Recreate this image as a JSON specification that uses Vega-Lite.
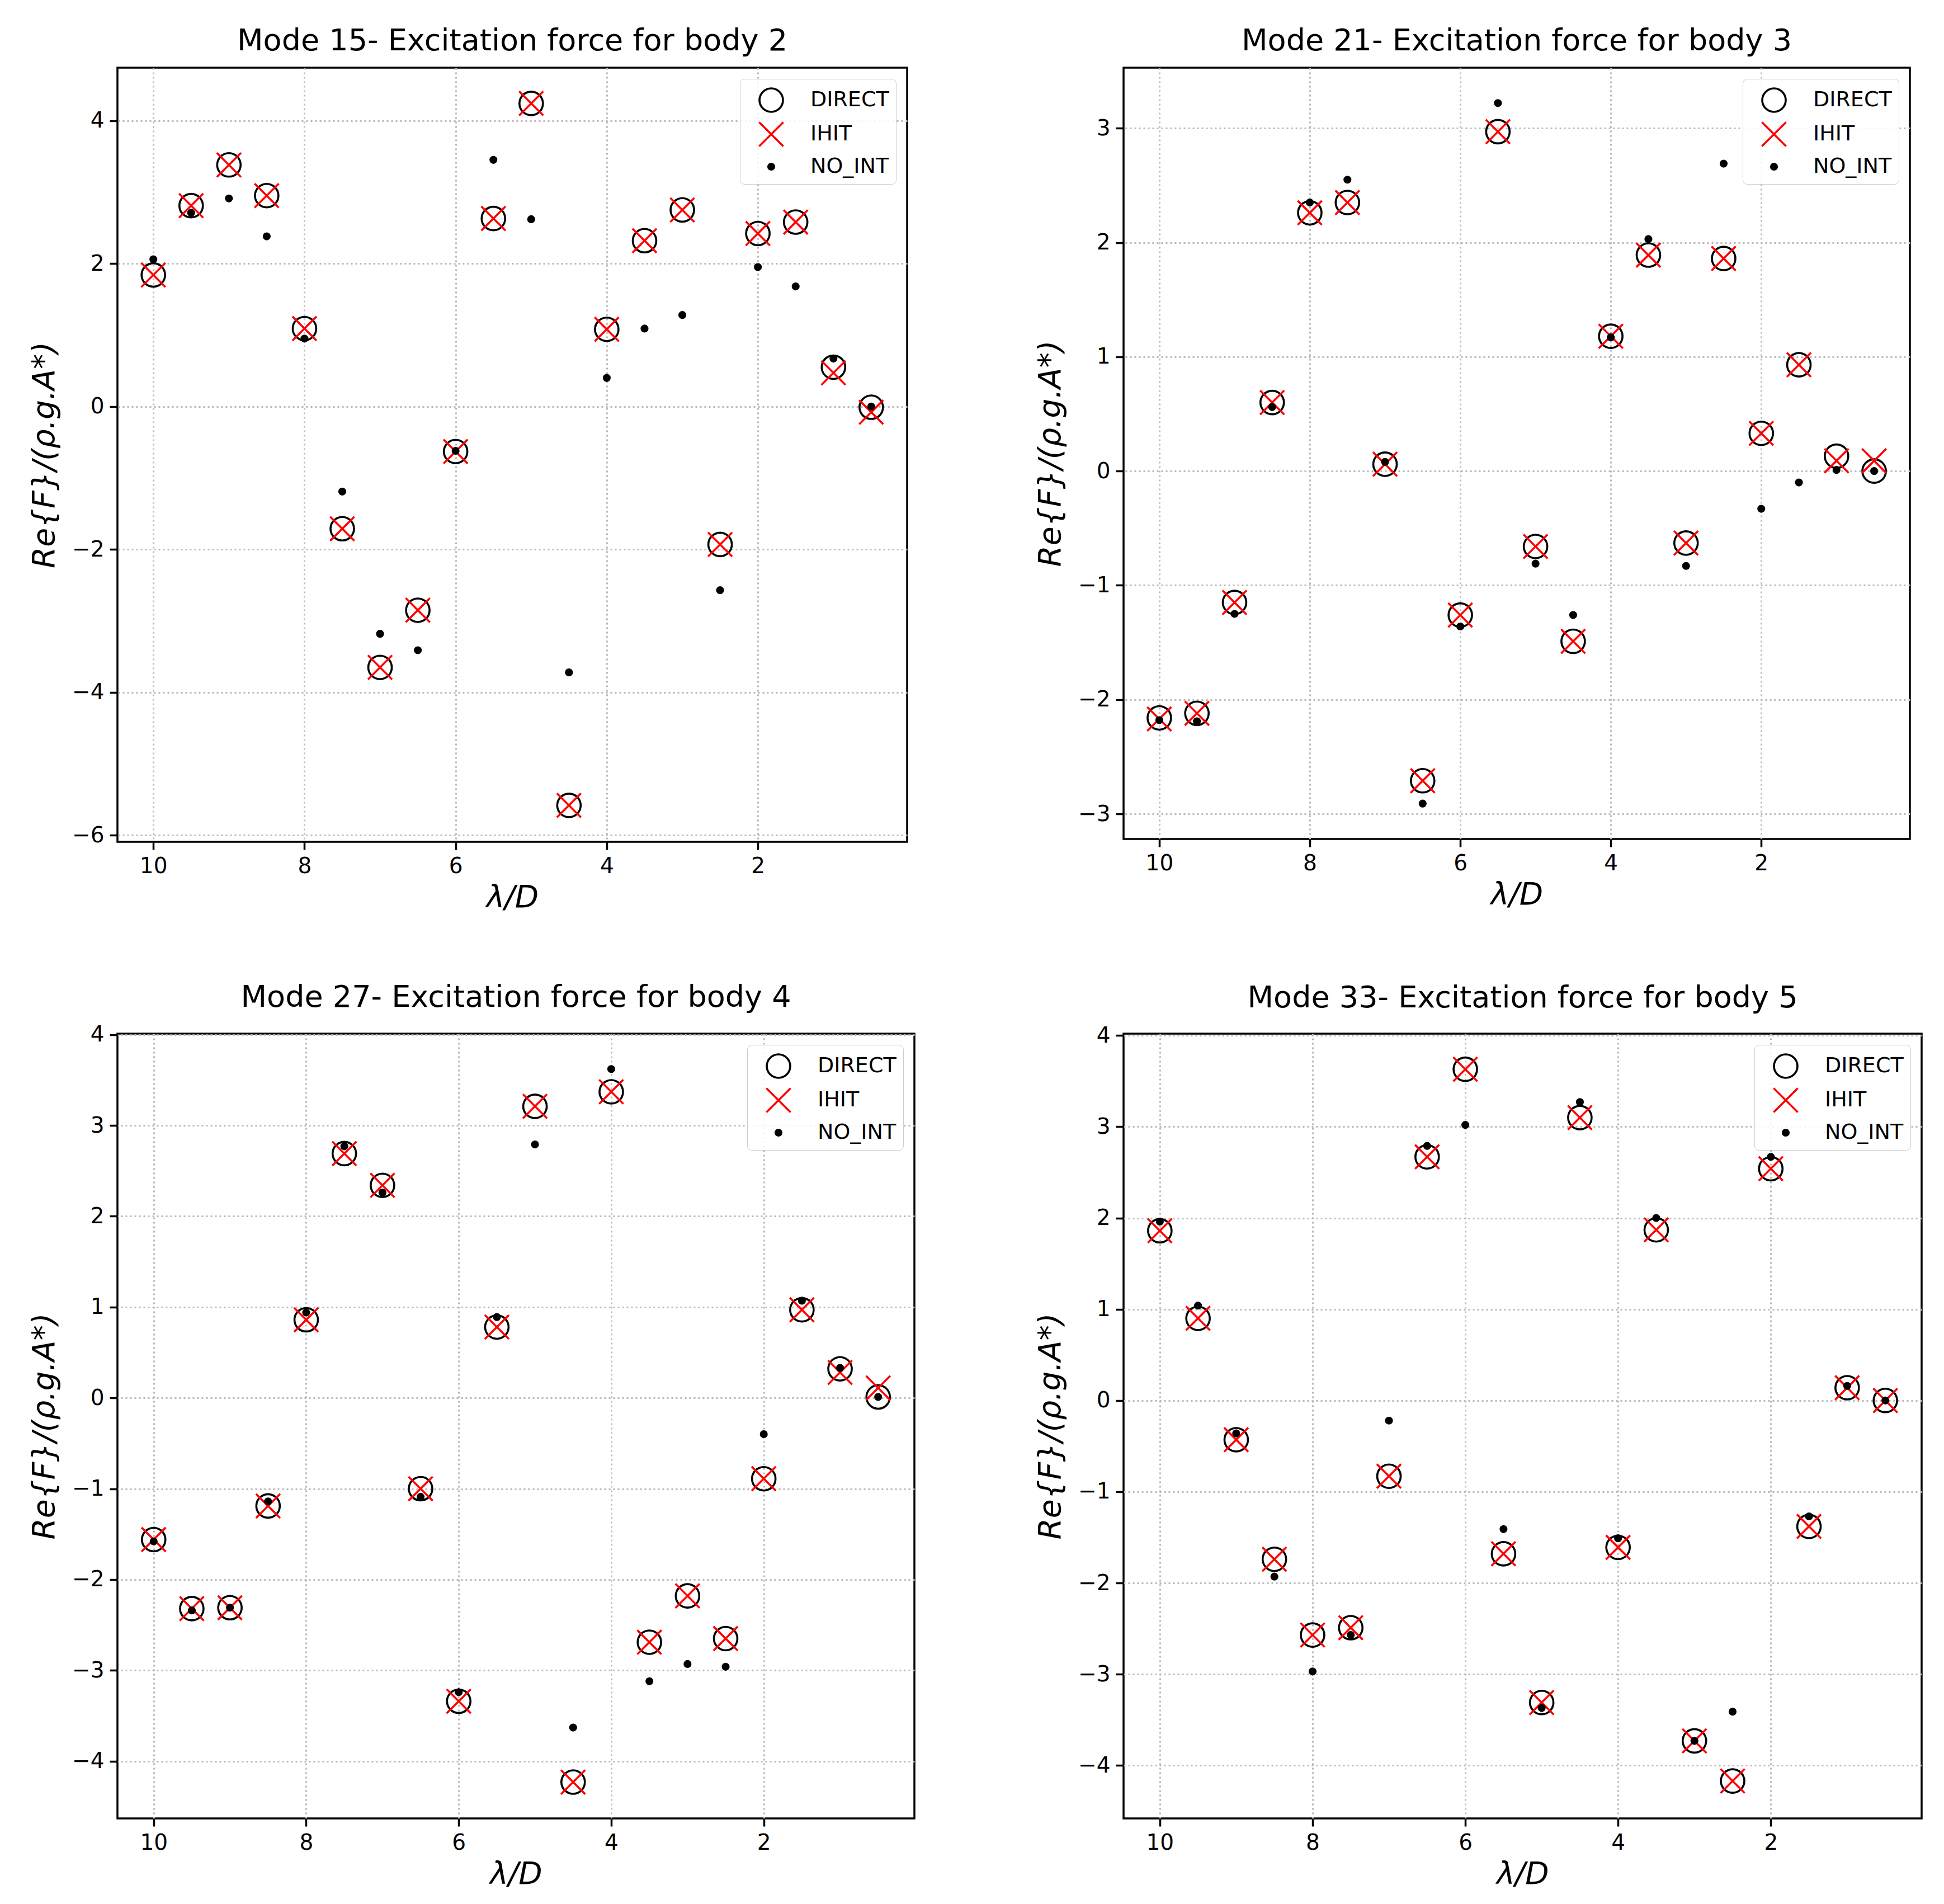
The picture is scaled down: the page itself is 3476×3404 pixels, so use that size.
{
  "$schema": "https://vega.github.io/schema/vega-lite/v6.json",
  "background": "white",
  "padding": {"left": 50, "top": 45, "right": 0, "bottom": 0},
  "config": {
    "font": "DejaVu Sans",
    "view": {"stroke": "black", "strokeWidth": 3.5},
    "title": {"font": "DejaVu Sans", "fontSize": 54, "fontWeight": "normal", "color": "black", "offset": 20, "anchor": "middle"},
    "axis": {
      "domain": false,
      "grid": true, "gridColor": "#b8b8b8", "gridDash": [3, 5], "gridWidth": 3,
      "ticks": true, "tickColor": "black", "tickSize": 14, "tickWidth": 3.5,
      "labelFont": "DejaVu Sans", "labelFontSize": 39, "labelColor": "black", "labelPadding": 10,
      "titleFont": "DejaVu Sans", "titleFontSize": 55, "titleFontStyle": "italic", "titleFontWeight": "normal", "titleColor": "black"
    },
    "axisX": {"titlePadding": 10},
    "axisY": {"titlePadding": 20},
    "legend": {
      "labelFont": "DejaVu Sans", "labelFontSize": 38, "labelColor": "black",
      "padding": 12, "strokeColor": "#cccccc", "fillColor": "rgba(255,255,255,0.85)", "cornerRadius": 8,
      "rowPadding": 3, "labelOffset": 44, "symbolOffset": 18, "symbolSize": 2304, "symbolStrokeWidth": 3.6, "symbolOpacity": 1
    }
  },
  "datasets": {
    "m15": [
      {"lambda":10,"series":"DIRECT","value":1.84},{"lambda":9.5,"series":"DIRECT","value":2.81},{"lambda":9,"series":"DIRECT","value":3.38},{"lambda":8.5,"series":"DIRECT","value":2.95},{"lambda":8,"series":"DIRECT","value":1.09},{"lambda":7.5,"series":"DIRECT","value":-1.71},{"lambda":7,"series":"DIRECT","value":-3.65},{"lambda":6.5,"series":"DIRECT","value":-2.85},{"lambda":6,"series":"DIRECT","value":-0.63},{"lambda":5.5,"series":"DIRECT","value":2.63},{"lambda":5,"series":"DIRECT","value":4.24},{"lambda":4.5,"series":"DIRECT","value":-5.58},{"lambda":4,"series":"DIRECT","value":1.08},{"lambda":3.5,"series":"DIRECT","value":2.32},{"lambda":3,"series":"DIRECT","value":2.75},{"lambda":2.5,"series":"DIRECT","value":-1.93},{"lambda":2,"series":"DIRECT","value":2.42},{"lambda":1.5,"series":"DIRECT","value":2.58},{"lambda":1,"series":"DIRECT","value":0.55},{"lambda":0.5,"series":"DIRECT","value":-0.01},
      {"lambda":10,"series":"IHIT","value":1.84},{"lambda":9.5,"series":"IHIT","value":2.81},{"lambda":9,"series":"IHIT","value":3.38},{"lambda":8.5,"series":"IHIT","value":2.95},{"lambda":8,"series":"IHIT","value":1.09},{"lambda":7.5,"series":"IHIT","value":-1.71},{"lambda":7,"series":"IHIT","value":-3.65},{"lambda":6.5,"series":"IHIT","value":-2.85},{"lambda":6,"series":"IHIT","value":-0.63},{"lambda":5.5,"series":"IHIT","value":2.63},{"lambda":5,"series":"IHIT","value":4.24},{"lambda":4.5,"series":"IHIT","value":-5.58},{"lambda":4,"series":"IHIT","value":1.08},{"lambda":3.5,"series":"IHIT","value":2.32},{"lambda":3,"series":"IHIT","value":2.75},{"lambda":2.5,"series":"IHIT","value":-1.93},{"lambda":2,"series":"IHIT","value":2.42},{"lambda":1.5,"series":"IHIT","value":2.58},{"lambda":1,"series":"IHIT","value":0.47},{"lambda":0.5,"series":"IHIT","value":-0.08},
      {"lambda":10,"series":"NO_INT","value":2.06},{"lambda":9.5,"series":"NO_INT","value":2.71},{"lambda":9,"series":"NO_INT","value":2.91},{"lambda":8.5,"series":"NO_INT","value":2.38},{"lambda":8,"series":"NO_INT","value":0.95},{"lambda":7.5,"series":"NO_INT","value":-1.19},{"lambda":7,"series":"NO_INT","value":-3.18},{"lambda":6.5,"series":"NO_INT","value":-3.41},{"lambda":6,"series":"NO_INT","value":-0.62},{"lambda":5.5,"series":"NO_INT","value":3.45},{"lambda":5,"series":"NO_INT","value":2.62},{"lambda":4.5,"series":"NO_INT","value":-3.72},{"lambda":4,"series":"NO_INT","value":0.40},{"lambda":3.5,"series":"NO_INT","value":1.09},{"lambda":3,"series":"NO_INT","value":1.28},{"lambda":2.5,"series":"NO_INT","value":-2.57},{"lambda":2,"series":"NO_INT","value":1.95},{"lambda":1.5,"series":"NO_INT","value":1.68},{"lambda":1,"series":"NO_INT","value":0.67},{"lambda":0.5,"series":"NO_INT","value":0.0}
    ],
    "m21": [
      {"lambda":10,"series":"DIRECT","value":-2.16},{"lambda":9.5,"series":"DIRECT","value":-2.12},{"lambda":9,"series":"DIRECT","value":-1.15},{"lambda":8.5,"series":"DIRECT","value":0.60},{"lambda":8,"series":"DIRECT","value":2.26},{"lambda":7.5,"series":"DIRECT","value":2.35},{"lambda":7,"series":"DIRECT","value":0.06},{"lambda":6.5,"series":"DIRECT","value":-2.71},{"lambda":6,"series":"DIRECT","value":-1.26},{"lambda":5.5,"series":"DIRECT","value":2.97},{"lambda":5,"series":"DIRECT","value":-0.66},{"lambda":4.5,"series":"DIRECT","value":-1.49},{"lambda":4,"series":"DIRECT","value":1.18},{"lambda":3.5,"series":"DIRECT","value":1.89},{"lambda":3,"series":"DIRECT","value":-0.63},{"lambda":2.5,"series":"DIRECT","value":1.86},{"lambda":2,"series":"DIRECT","value":0.33},{"lambda":1.5,"series":"DIRECT","value":0.93},{"lambda":1,"series":"DIRECT","value":0.13},{"lambda":0.5,"series":"DIRECT","value":0.0},
      {"lambda":10,"series":"IHIT","value":-2.17},{"lambda":9.5,"series":"IHIT","value":-2.12},{"lambda":9,"series":"IHIT","value":-1.15},{"lambda":8.5,"series":"IHIT","value":0.60},{"lambda":8,"series":"IHIT","value":2.26},{"lambda":7.5,"series":"IHIT","value":2.35},{"lambda":7,"series":"IHIT","value":0.06},{"lambda":6.5,"series":"IHIT","value":-2.71},{"lambda":6,"series":"IHIT","value":-1.26},{"lambda":5.5,"series":"IHIT","value":2.97},{"lambda":5,"series":"IHIT","value":-0.66},{"lambda":4.5,"series":"IHIT","value":-1.49},{"lambda":4,"series":"IHIT","value":1.18},{"lambda":3.5,"series":"IHIT","value":1.89},{"lambda":3,"series":"IHIT","value":-0.63},{"lambda":2.5,"series":"IHIT","value":1.86},{"lambda":2,"series":"IHIT","value":0.33},{"lambda":1.5,"series":"IHIT","value":0.93},{"lambda":1,"series":"IHIT","value":0.09},{"lambda":0.5,"series":"IHIT","value":0.09},
      {"lambda":10,"series":"NO_INT","value":-2.18},{"lambda":9.5,"series":"NO_INT","value":-2.19},{"lambda":9,"series":"NO_INT","value":-1.25},{"lambda":8.5,"series":"NO_INT","value":0.56},{"lambda":8,"series":"NO_INT","value":2.35},{"lambda":7.5,"series":"NO_INT","value":2.55},{"lambda":7,"series":"NO_INT","value":0.08},{"lambda":6.5,"series":"NO_INT","value":-2.91},{"lambda":6,"series":"NO_INT","value":-1.36},{"lambda":5.5,"series":"NO_INT","value":3.22},{"lambda":5,"series":"NO_INT","value":-0.81},{"lambda":4.5,"series":"NO_INT","value":-1.26},{"lambda":4,"series":"NO_INT","value":1.17},{"lambda":3.5,"series":"NO_INT","value":2.03},{"lambda":3,"series":"NO_INT","value":-0.83},{"lambda":2.5,"series":"NO_INT","value":2.69},{"lambda":2,"series":"NO_INT","value":-0.33},{"lambda":1.5,"series":"NO_INT","value":-0.10},{"lambda":1,"series":"NO_INT","value":0.01},{"lambda":0.5,"series":"NO_INT","value":0.0}
    ],
    "m27": [
      {"lambda":10,"series":"DIRECT","value":-1.56},{"lambda":9.5,"series":"DIRECT","value":-2.32},{"lambda":9,"series":"DIRECT","value":-2.31},{"lambda":8.5,"series":"DIRECT","value":-1.19},{"lambda":8,"series":"DIRECT","value":0.86},{"lambda":7.5,"series":"DIRECT","value":2.69},{"lambda":7,"series":"DIRECT","value":2.34},{"lambda":6.5,"series":"DIRECT","value":-1.00},{"lambda":6,"series":"DIRECT","value":-3.34},{"lambda":5.5,"series":"DIRECT","value":0.78},{"lambda":5,"series":"DIRECT","value":3.21},{"lambda":4.5,"series":"DIRECT","value":-4.23},{"lambda":4,"series":"DIRECT","value":3.37},{"lambda":3.5,"series":"DIRECT","value":-2.69},{"lambda":3,"series":"DIRECT","value":-2.18},{"lambda":2.5,"series":"DIRECT","value":-2.65},{"lambda":2,"series":"DIRECT","value":-0.89},{"lambda":1.5,"series":"DIRECT","value":0.97},{"lambda":1,"series":"DIRECT","value":0.32},{"lambda":0.5,"series":"DIRECT","value":0.01},
      {"lambda":10,"series":"IHIT","value":-1.56},{"lambda":9.5,"series":"IHIT","value":-2.32},{"lambda":9,"series":"IHIT","value":-2.31},{"lambda":8.5,"series":"IHIT","value":-1.19},{"lambda":8,"series":"IHIT","value":0.86},{"lambda":7.5,"series":"IHIT","value":2.69},{"lambda":7,"series":"IHIT","value":2.34},{"lambda":6.5,"series":"IHIT","value":-1.00},{"lambda":6,"series":"IHIT","value":-3.34},{"lambda":5.5,"series":"IHIT","value":0.78},{"lambda":5,"series":"IHIT","value":3.21},{"lambda":4.5,"series":"IHIT","value":-4.23},{"lambda":4,"series":"IHIT","value":3.37},{"lambda":3.5,"series":"IHIT","value":-2.69},{"lambda":3,"series":"IHIT","value":-2.18},{"lambda":2.5,"series":"IHIT","value":-2.65},{"lambda":2,"series":"IHIT","value":-0.89},{"lambda":1.5,"series":"IHIT","value":0.97},{"lambda":1,"series":"IHIT","value":0.28},{"lambda":0.5,"series":"IHIT","value":0.11},
      {"lambda":10,"series":"NO_INT","value":-1.58},{"lambda":9.5,"series":"NO_INT","value":-2.34},{"lambda":9,"series":"NO_INT","value":-2.31},{"lambda":8.5,"series":"NO_INT","value":-1.14},{"lambda":8,"series":"NO_INT","value":0.94},{"lambda":7.5,"series":"NO_INT","value":2.77},{"lambda":7,"series":"NO_INT","value":2.26},{"lambda":6.5,"series":"NO_INT","value":-1.09},{"lambda":6,"series":"NO_INT","value":-3.24},{"lambda":5.5,"series":"NO_INT","value":0.89},{"lambda":5,"series":"NO_INT","value":2.79},{"lambda":4.5,"series":"NO_INT","value":-3.63},{"lambda":4,"series":"NO_INT","value":3.62},{"lambda":3.5,"series":"NO_INT","value":-3.12},{"lambda":3,"series":"NO_INT","value":-2.93},{"lambda":2.5,"series":"NO_INT","value":-2.96},{"lambda":2,"series":"NO_INT","value":-0.40},{"lambda":1.5,"series":"NO_INT","value":1.07},{"lambda":1,"series":"NO_INT","value":0.33},{"lambda":0.5,"series":"NO_INT","value":0.01}
    ],
    "m33": [
      {"lambda":10,"series":"DIRECT","value":1.86},{"lambda":9.5,"series":"DIRECT","value":0.90},{"lambda":9,"series":"DIRECT","value":-0.43},{"lambda":8.5,"series":"DIRECT","value":-1.74},{"lambda":8,"series":"DIRECT","value":-2.57},{"lambda":7.5,"series":"DIRECT","value":-2.49},{"lambda":7,"series":"DIRECT","value":-0.83},{"lambda":6.5,"series":"DIRECT","value":2.67},{"lambda":6,"series":"DIRECT","value":3.63},{"lambda":5.5,"series":"DIRECT","value":-1.68},{"lambda":5,"series":"DIRECT","value":-3.31},{"lambda":4.5,"series":"DIRECT","value":3.10},{"lambda":4,"series":"DIRECT","value":-1.61},{"lambda":3.5,"series":"DIRECT","value":1.87},{"lambda":3,"series":"DIRECT","value":-3.73},{"lambda":2.5,"series":"DIRECT","value":-4.17},{"lambda":2,"series":"DIRECT","value":2.54},{"lambda":1.5,"series":"DIRECT","value":-1.38},{"lambda":1,"series":"DIRECT","value":0.14},{"lambda":0.5,"series":"DIRECT","value":0.0},
      {"lambda":10,"series":"IHIT","value":1.86},{"lambda":9.5,"series":"IHIT","value":0.90},{"lambda":9,"series":"IHIT","value":-0.43},{"lambda":8.5,"series":"IHIT","value":-1.74},{"lambda":8,"series":"IHIT","value":-2.57},{"lambda":7.5,"series":"IHIT","value":-2.49},{"lambda":7,"series":"IHIT","value":-0.83},{"lambda":6.5,"series":"IHIT","value":2.67},{"lambda":6,"series":"IHIT","value":3.63},{"lambda":5.5,"series":"IHIT","value":-1.68},{"lambda":5,"series":"IHIT","value":-3.31},{"lambda":4.5,"series":"IHIT","value":3.10},{"lambda":4,"series":"IHIT","value":-1.61},{"lambda":3.5,"series":"IHIT","value":1.87},{"lambda":3,"series":"IHIT","value":-3.73},{"lambda":2.5,"series":"IHIT","value":-4.17},{"lambda":2,"series":"IHIT","value":2.54},{"lambda":1.5,"series":"IHIT","value":-1.38},{"lambda":1,"series":"IHIT","value":0.14},{"lambda":0.5,"series":"IHIT","value":0.0},
      {"lambda":10,"series":"NO_INT","value":1.96},{"lambda":9.5,"series":"NO_INT","value":1.04},{"lambda":9,"series":"NO_INT","value":-0.36},{"lambda":8.5,"series":"NO_INT","value":-1.93},{"lambda":8,"series":"NO_INT","value":-2.97},{"lambda":7.5,"series":"NO_INT","value":-2.57},{"lambda":7,"series":"NO_INT","value":-0.22},{"lambda":6.5,"series":"NO_INT","value":2.79},{"lambda":6,"series":"NO_INT","value":3.02},{"lambda":5.5,"series":"NO_INT","value":-1.41},{"lambda":5,"series":"NO_INT","value":-3.37},{"lambda":4.5,"series":"NO_INT","value":3.27},{"lambda":4,"series":"NO_INT","value":-1.51},{"lambda":3.5,"series":"NO_INT","value":2.00},{"lambda":3,"series":"NO_INT","value":-3.73},{"lambda":2.5,"series":"NO_INT","value":-3.41},{"lambda":2,"series":"NO_INT","value":2.67},{"lambda":1.5,"series":"NO_INT","value":-1.27},{"lambda":1,"series":"NO_INT","value":0.16},{"lambda":0.5,"series":"NO_INT","value":0.0}
    ]
  },
  "columns": 2,
  "spacing": {"row": 120, "column": 212},
  "concat": [
    {
      "width": 1412, "height": 1384,
      "title": "Mode 15- Excitation force for body 2",
      "data": {"name": "m15"},
      "mark": {"type": "point", "size": 2304, "strokeWidth": 3.6, "opacity": 1},
      "encoding": {
        "x": {"field": "lambda", "type": "quantitative", "scale": {"domain": [0.025, 10.475], "reverse": true, "nice": false, "zero": false}, "axis": {"values": [10, 8, 6, 4, 2], "title": "λ/D"}},
        "y": {"field": "value", "type": "quantitative", "scale": {"domain": [-6.09, 4.74], "nice": false, "zero": false}, "axis": {"values": [-6, -4, -2, 0, 2, 4], "title": "Re{F}/(ρ.g.A*)"}},
        "stroke": {"field": "series", "type": "nominal", "scale": {"domain": ["DIRECT", "IHIT", "NO_INT"], "range": ["black", "red", "black"]}, "legend": {"title": null, "orient": "top-right", "offset": 20}},
        "fill": {"field": "series", "type": "nominal", "scale": {"domain": ["DIRECT", "IHIT", "NO_INT"], "range": ["transparent", "transparent", "black"]}, "legend": {"title": null, "orient": "top-right", "offset": 20}},
        "shape": {"field": "series", "type": "nominal", "scale": {"domain": ["DIRECT", "IHIT", "NO_INT"], "range": ["M0.875,0A0.875,0.875 0 1,1 -0.875,0A0.875,0.875 0 1,1 0.875,0Z", "M-0.9,-0.9L0.9,0.9M-0.9,0.9L0.9,-0.9", "M0.22,0A0.22,0.22 0 1,1 -0.22,0A0.22,0.22 0 1,1 0.22,0Z"]}, "legend": {"title": null, "orient": "top-right", "offset": 20}}
      }
    },
    {
      "width": 1406, "height": 1379,
      "title": "Mode 21- Excitation force for body 3",
      "data": {"name": "m21"},
      "mark": {"type": "point", "size": 2304, "strokeWidth": 3.6, "opacity": 1},
      "encoding": {
        "x": {"field": "lambda", "type": "quantitative", "scale": {"domain": [0.025, 10.475], "reverse": true, "nice": false, "zero": false}, "axis": {"values": [10, 8, 6, 4, 2], "title": "λ/D"}},
        "y": {"field": "value", "type": "quantitative", "scale": {"domain": [-3.22, 3.53], "nice": false, "zero": false}, "axis": {"values": [-3, -2, -1, 0, 1, 2, 3], "title": "Re{F}/(ρ.g.A*)"}},
        "stroke": {"field": "series", "type": "nominal", "scale": {"domain": ["DIRECT", "IHIT", "NO_INT"], "range": ["black", "red", "black"]}, "legend": {"title": null, "orient": "top-right", "offset": 20}},
        "fill": {"field": "series", "type": "nominal", "scale": {"domain": ["DIRECT", "IHIT", "NO_INT"], "range": ["transparent", "transparent", "black"]}, "legend": {"title": null, "orient": "top-right", "offset": 20}},
        "shape": {"field": "series", "type": "nominal", "scale": {"domain": ["DIRECT", "IHIT", "NO_INT"], "range": ["M0.875,0A0.875,0.875 0 1,1 -0.875,0A0.875,0.875 0 1,1 0.875,0Z", "M-0.9,-0.9L0.9,0.9M-0.9,0.9L0.9,-0.9", "M0.22,0A0.22,0.22 0 1,1 -0.22,0A0.22,0.22 0 1,1 0.22,0Z"]}, "legend": {"title": null, "orient": "top-right", "offset": 20}}
      }
    },
    {
      "width": 1425, "height": 1403,
      "title": "Mode 27- Excitation force for body 4",
      "data": {"name": "m27"},
      "mark": {"type": "point", "size": 2304, "strokeWidth": 3.6, "opacity": 1},
      "encoding": {
        "x": {"field": "lambda", "type": "quantitative", "scale": {"domain": [0.025, 10.475], "reverse": true, "nice": false, "zero": false}, "axis": {"values": [10, 8, 6, 4, 2], "title": "λ/D"}},
        "y": {"field": "value", "type": "quantitative", "scale": {"domain": [-4.63, 4.01], "nice": false, "zero": false}, "axis": {"values": [-4, -3, -2, -1, 0, 1, 2, 3, 4], "title": "Re{F}/(ρ.g.A*)"}},
        "stroke": {"field": "series", "type": "nominal", "scale": {"domain": ["DIRECT", "IHIT", "NO_INT"], "range": ["black", "red", "black"]}, "legend": {"title": null, "orient": "top-right", "offset": 20}},
        "fill": {"field": "series", "type": "nominal", "scale": {"domain": ["DIRECT", "IHIT", "NO_INT"], "range": ["transparent", "transparent", "black"]}, "legend": {"title": null, "orient": "top-right", "offset": 20}},
        "shape": {"field": "series", "type": "nominal", "scale": {"domain": ["DIRECT", "IHIT", "NO_INT"], "range": ["M0.875,0A0.875,0.875 0 1,1 -0.875,0A0.875,0.875 0 1,1 0.875,0Z", "M-0.9,-0.9L0.9,0.9M-0.9,0.9L0.9,-0.9", "M0.22,0A0.22,0.22 0 1,1 -0.22,0A0.22,0.22 0 1,1 0.22,0Z"]}, "legend": {"title": null, "orient": "top-right", "offset": 20}}
      }
    },
    {
      "width": 1427, "height": 1403,
      "title": "Mode 33- Excitation force for body 5",
      "data": {"name": "m33"},
      "mark": {"type": "point", "size": 2304, "strokeWidth": 3.6, "opacity": 1},
      "encoding": {
        "x": {"field": "lambda", "type": "quantitative", "scale": {"domain": [0.025, 10.475], "reverse": true, "nice": false, "zero": false}, "axis": {"values": [10, 8, 6, 4, 2], "title": "λ/D"}},
        "y": {"field": "value", "type": "quantitative", "scale": {"domain": [-4.58, 4.02], "nice": false, "zero": false}, "axis": {"values": [-4, -3, -2, -1, 0, 1, 2, 3, 4], "title": "Re{F}/(ρ.g.A*)"}},
        "stroke": {"field": "series", "type": "nominal", "scale": {"domain": ["DIRECT", "IHIT", "NO_INT"], "range": ["black", "red", "black"]}, "legend": {"title": null, "orient": "top-right", "offset": 20}},
        "fill": {"field": "series", "type": "nominal", "scale": {"domain": ["DIRECT", "IHIT", "NO_INT"], "range": ["transparent", "transparent", "black"]}, "legend": {"title": null, "orient": "top-right", "offset": 20}},
        "shape": {"field": "series", "type": "nominal", "scale": {"domain": ["DIRECT", "IHIT", "NO_INT"], "range": ["M0.875,0A0.875,0.875 0 1,1 -0.875,0A0.875,0.875 0 1,1 0.875,0Z", "M-0.9,-0.9L0.9,0.9M-0.9,0.9L0.9,-0.9", "M0.22,0A0.22,0.22 0 1,1 -0.22,0A0.22,0.22 0 1,1 0.22,0Z"]}, "legend": {"title": null, "orient": "top-right", "offset": 20}}
      }
    }
  ],
  "resolve": {"scale": {"stroke": "independent", "fill": "independent", "shape": "independent"}, "legend": {"stroke": "independent", "fill": "independent", "shape": "independent"}}
}
